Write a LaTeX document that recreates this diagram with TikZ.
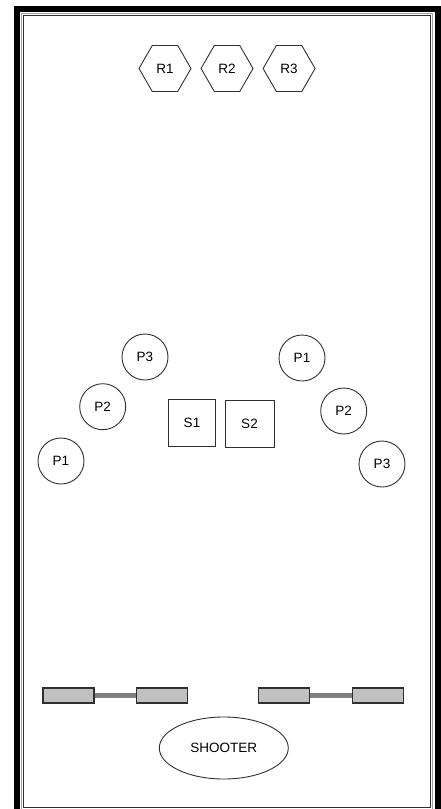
\documentclass[tikz,border=0pt]{standalone}
\usepackage{fontspec}
\setmainfont{Liberation Sans}
\usetikzlibrary{positioning,shapes.geometric,shapes.symbols}
\definecolor{flipgray}{HTML}{C0C0C0}
\definecolor{bargray}{HTML}{808080}
\definecolor{rimgray}{HTML}{A0A0A0}
\definecolor{inkgray}{HTML}{303030}

\begin{document}
\begin{tikzpicture}[x=1pt, y=-1pt,
  target/.style={signal, signal to=east and west, signal pointer angle=120, draw=inkgray,
                 line width=0.9pt, minimum height=46pt, minimum width=52pt, inner sep=0pt,
                 font=\fontsize{13.5}{15}\selectfont},
  pop/.style={circle, draw=inkgray, line width=0.9pt, minimum size=46pt, inner sep=0pt,
              font=\fontsize{13.5}{15}\selectfont},
  sling/.style={rectangle, draw=inkgray, line width=0.9pt, minimum size=47pt, inner sep=0pt,
                font=\fontsize{13.5}{15}\selectfont},
  flip/.style={rectangle, draw=inkgray, fill=flipgray, line width=1.3pt,
               minimum width=51pt, minimum height=15pt, inner sep=0pt},
  bar/.style={bargray, line width=4.5pt},
  launch/.style={ellipse, draw=inkgray, line width=0.9pt, minimum width=129pt,
                 minimum height=62pt, inner sep=0pt, font=\fontsize{13.5}{15}\selectfont}
]
\useasboundingbox (0,0) rectangle (441,809);
\clip (0,0) rectangle (441,809);
% table frame
\draw[line width=6pt] (17,9) rectangle (437.5,830);
\draw[rimgray, line width=1pt] (21.5,13.5) rectangle (432.5,810);
\draw[inkgray, line width=1pt] (23.5,15.5) rectangle (430,807.5);

% drop targets
\node[target] (r1) at (165,68.5) {R1};
\node[target, right=9pt of r1] (r2) {R2};
\node[target, right=9pt of r2] (r3) {R3};

% pop bumpers
\node[pop] (lp3) at (145,357) {P3};
\node[pop] (lp2) at (102.7,406.7) {P2};
\node[pop] (lp1) at (61,461) {P1};
\node[pop] (rp1) at (302,358) {P1};
\node[pop] (rp2) at (343.7,411) {P2};
\node[pop] (rp3) at (382,464) {P3};

% slingshots
\node[sling] (s1) at (192,422.5) {S1};
\node[sling, minimum width=49pt] (s2) at (249.5,424) {S2};

% flippers
\node[flip] (lf1) at (68.5,695.5) {};
\node[flip] (lf2) at (162.2,695.5) {};
\node[flip] (rf1) at (283.8,695.5) {};
\node[flip] (rf2) at (378,695.5) {};
\draw[bar] (lf1.east) -- (lf2.west);
\draw[bar] (rf1.east) -- (rf2.west);

\node[launch] (shooter) at (223.8,748) {SHOOTER};
\end{tikzpicture}
\end{document}
